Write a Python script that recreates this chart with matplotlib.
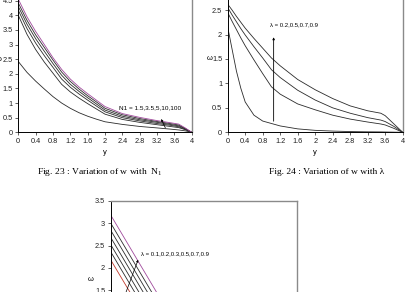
import matplotlib
matplotlib.use("Agg")
import matplotlib.pyplot as plt

# ---- data ----
x23 = [0, 0.2, 0.4, 0.6, 0.8, 1.0, 1.2, 1.4, 1.6, 1.8, 2.0, 2.4, 2.8, 3.2, 3.5, 3.7, 3.85, 4.0]
w23_purple = [4.55, 3.95, 3.45, 3.0, 2.55, 2.15, 1.82, 1.55, 1.32, 1.1, 0.88, 0.64, 0.51, 0.4, 0.33, 0.28, 0.15, 0]
w23_b1 = [4.42, 3.83, 3.33, 2.9, 2.47, 2.06, 1.74, 1.48, 1.25, 1.04, 0.82, 0.6, 0.47, 0.37, 0.3, 0.25, 0.13, 0]
w23_b2 = [4.3, 3.7, 3.2, 2.77, 2.35, 1.95, 1.64, 1.4, 1.18, 0.97, 0.76, 0.55, 0.43, 0.34, 0.27, 0.22, 0.12, 0]
w23_b3 = [4.17, 3.55, 3.05, 2.62, 2.22, 1.82, 1.54, 1.31, 1.1, 0.9, 0.7, 0.5, 0.39, 0.3, 0.24, 0.19, 0.1, 0]
w23_b4 = [4.0, 3.35, 2.83, 2.4, 2.02, 1.64, 1.38, 1.17, 0.98, 0.8, 0.62, 0.44, 0.34, 0.26, 0.2, 0.16, 0.09, 0]
w23_low = [2.42, 2.05, 1.75, 1.48, 1.22, 1.0, 0.82, 0.67, 0.55, 0.45, 0.36, 0.27, 0.2, 0.15, 0.11, 0.08, 0.05, 0]

x24 = [0, 0.1, 0.2, 0.3, 0.4, 0.6, 0.8, 1.0, 1.2, 1.6, 2.0, 2.4, 2.8, 3.2, 3.5, 3.6, 3.8, 4.0]
w24 = [
    [2.62, 2.5, 2.37, 2.25, 2.13, 1.92, 1.72, 1.52, 1.36, 1.08, 0.87, 0.69, 0.54, 0.44, 0.39, 0.34, 0.17, 0],
    [2.55, 2.4, 2.26, 2.12, 1.99, 1.75, 1.52, 1.28, 1.12, 0.86, 0.66, 0.5, 0.39, 0.3, 0.25, 0.22, 0.12, 0],
    [2.45, 2.27, 2.1, 1.93, 1.77, 1.48, 1.2, 0.93, 0.78, 0.58, 0.46, 0.35, 0.27, 0.21, 0.17, 0.15, 0.08, 0],
    [2.15, 1.7, 1.25, 0.9, 0.62, 0.35, 0.23, 0.18, 0.13, 0.07, 0.04, 0.025, 0.015, 0.01, 0.008, 0.006, 0.003, 0],
]

x25 = [0, 0.4, 0.8, 1.2]
w25_purple = [3.18, 2.48, 1.78, 1.08]
w25_black = [
    [3.0, 2.3, 1.6, 0.9],
    [2.84, 2.14, 1.44, 0.74],
    [2.68, 1.98, 1.28, 0.58],
    [2.52, 1.82, 1.12, 0.42],
    [2.36, 1.66, 0.96, 0.26],
]
w25_red = [2.18, 1.48, 0.78, 0.08]

xticks = [0, 0.4, 0.8, 1.2, 1.6, 2, 2.4, 2.8, 3.2, 3.6, 4]
xtick_labels = ["0", "0.4", "0.8", "1.2", "1.6", "2", "2.4", "2.8", "3.2", "3.6", "4"]

plt.rcParams["font.family"] = ["Liberation Sans", "DejaVu Sans"]
plt.rcParams["mathtext.fontset"] = "custom"
plt.rcParams["mathtext.rm"] = "Liberation Serif"
plt.rcParams["mathtext.it"] = "Liberation Serif:italic"

W, H = 407, 292
PURPLE = "#a04a9c"
DARK = "#2b2b2b"
GREY = "#8a8a8a"

fig = plt.figure(figsize=(W / 100, H / 100), dpi=100)


def make_axes(left, right, zero_px, unit_px, ymax, ystep):
    """ place an axes from pixel positions (top-origin) """
    ax = fig.add_axes([left / W, (H - zero_px) / H, (right - left) / W, ymax * unit_px / H])
    ax.set_xlim(0, 4)
    ax.set_ylim(0, ymax)
    ax.set_xticks(xticks)
    ax.set_xticklabels(xtick_labels)
    yt = [i * ystep for i in range(int(round(ymax / ystep)) + 1)]
    ax.set_yticks(yt)
    ax.set_yticklabels(["%g" % v for v in yt])
    ax.tick_params(direction="out", length=2, width=0.5, labelsize=5.3,
                   pad=2, colors="#222222")
    for s in ("left", "bottom"):
        ax.spines[s].set_color("black")
        ax.spines[s].set_linewidth(0.7)
    for s in ("top", "right"):
        ax.spines[s].set_color(GREY)
        ax.spines[s].set_linewidth(1.0)
    ax.set_facecolor("none")
    return ax


# Fig. 23
ax1 = make_axes(18.3, 191.7, 132.3, 29.25, 5, 0.5)
for w in [w23_low, w23_b4, w23_b3, w23_b2, w23_b1]:
    ax1.plot(x23, w, color=DARK, lw=0.6)
ax1.plot(x23, w23_purple, color=PURPLE, lw=0.6)
ax1.annotate("", xy=(3.27, 0.54), xytext=(3.42, 0.06),
             arrowprops=dict(arrowstyle="-|>", lw=0.5, color="black", mutation_scale=3))
ax1.text(2.33, 0.85, "N1 = 1.5,3.5,5,10,100", fontsize=4.6, va="center", ha="left")
ax1.set_xlabel("y", fontsize=5.5, labelpad=3)
ax1.set_ylabel("ω", fontsize=5.5, rotation=0, labelpad=3, va="center")

# Fig. 24
ax2 = make_axes(227.7, 402.7, 132.3, 48.9, 3, 0.5)
for w in w24:
    ax2.plot(x24, w, color=DARK, lw=0.6)
ax2.annotate("", xy=(1.05, 2.0), xytext=(1.05, 0.17),
             arrowprops=dict(arrowstyle="-|>", lw=0.6, color="black", mutation_scale=3))
ax2.text(0.97, 2.19, "λ = 0.2,0.5,0.7,0.9", fontsize=4.3, va="center", ha="left")
ax2.set_xlabel("y", fontsize=5.5, labelpad=3)
ax2.set_ylabel("ω", fontsize=5.5, rotation=0, labelpad=2, va="center")

# third chart (cut off at the bottom of the page)
ax3 = make_axes(110.7, 297.0, 357.5, 44.8, 3.5, 0.5)
ax3.plot(x25, w25_purple, color=PURPLE, lw=0.6)
for w in w25_black:
    ax3.plot(x25, w, color=DARK, lw=0.6)
ax3.plot(x25, w25_red, color="#c0392b", lw=0.6)
ax3.annotate("", xy=(0.61, 2.24), xytext=(0.2, 1.1),
             arrowprops=dict(arrowstyle="-|>", lw=0.5, color="black", mutation_scale=3))
ax3.text(0.66, 2.32, "λ = 0.1,0.2,0.3,0.5,0.7,0.9", fontsize=4.3, va="center", ha="left")
ax3.set_ylabel("ω", fontsize=5.5, rotation=0, labelpad=3, va="center")

# captions
fig.text(100 / W, (H - 172) / H, "Fig. 23 : Variation of w with  N$_1$",
         family="Liberation Serif", fontsize=6.8, ha="center", va="center")
fig.text(326.5 / W, (H - 172) / H, "Fig. 24 : Variation of w with λ",
         family="Liberation Serif", fontsize=6.8, ha="center", va="center")

fig.savefig("out.png", dpi=100)
